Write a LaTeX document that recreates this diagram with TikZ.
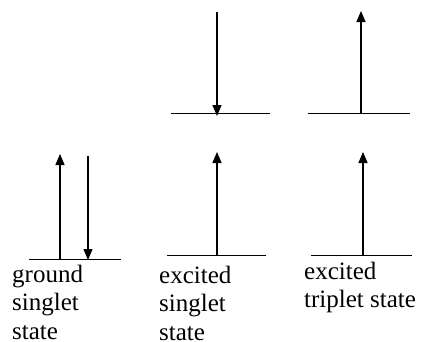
\documentclass[tikz,border=0pt]{standalone}
\usepackage{fontspec}
\setmainfont{Liberation Serif}
\usetikzlibrary{arrows.meta}
\begin{document}
\begin{tikzpicture}[x=1pt,y=-1pt,
  level/.style={line width=1.4pt},
  spin/.style={line width=1.4pt,-{Triangle[width=9pt,length=11pt]}},
  lbl/.style={anchor=base west,inner sep=0pt,
    font=\fontsize{25}{28.5}\selectfont}]
\useasboundingbox (0,0) rectangle (421,341);
% ground singlet state
\coordinate (g0) at (29,259.5);
\coordinate (g1) at (121,259.5);
\coordinate (gu0) at (60,259.5);
\coordinate (gu1) at (60,154);
\coordinate (gd0) at (88,156);
\coordinate (gd1) at (88,260);
\draw[level] (g0) -- (g1);
\draw[spin] (gu0) -- (gu1);
\draw[spin] (gd0) -- (gd1);
\node[lbl] (gl) at (12,282) {\begin{tabular}[t]{@{}l@{}}ground\\singlet\\state\end{tabular}};
% excited singlet state
\coordinate (su0) at (171,113.5);
\coordinate (su1) at (270,113.5);
\coordinate (sl0) at (167,255.5);
\coordinate (sl1) at (266,255.5);
\coordinate (sd0) at (217,12);
\coordinate (sd1) at (217,116);
\coordinate (sa0) at (217,255.5);
\coordinate (sa1) at (217,152);
\draw[level] (su0) -- (su1);
\draw[level] (sl0) -- (sl1);
\draw[spin] (sd0) -- (sd1);
\draw[spin] (sa0) -- (sa1);
\node[lbl] (sl) at (159,283) {\begin{tabular}[t]{@{}l@{}}excited\\singlet\\state\end{tabular}};
% excited triplet state
\coordinate (tu0) at (308,113.5);
\coordinate (tu1) at (410,113.5);
\coordinate (tl0) at (311,255.5);
\coordinate (tl1) at (412,255.5);
\coordinate (ta0) at (361,113.5);
\coordinate (ta1) at (361,11);
\coordinate (tb0) at (363,255.5);
\coordinate (tb1) at (363,152);
\draw[level] (tu0) -- (tu1);
\draw[level] (tl0) -- (tl1);
\draw[spin] (ta0) -- (ta1);
\draw[spin] (tb0) -- (tb1);
\node[lbl] (tl) at (304,279) {\begin{tabular}[t]{@{}l@{}}excited\\triplet state\end{tabular}};
\end{tikzpicture}
\end{document}
